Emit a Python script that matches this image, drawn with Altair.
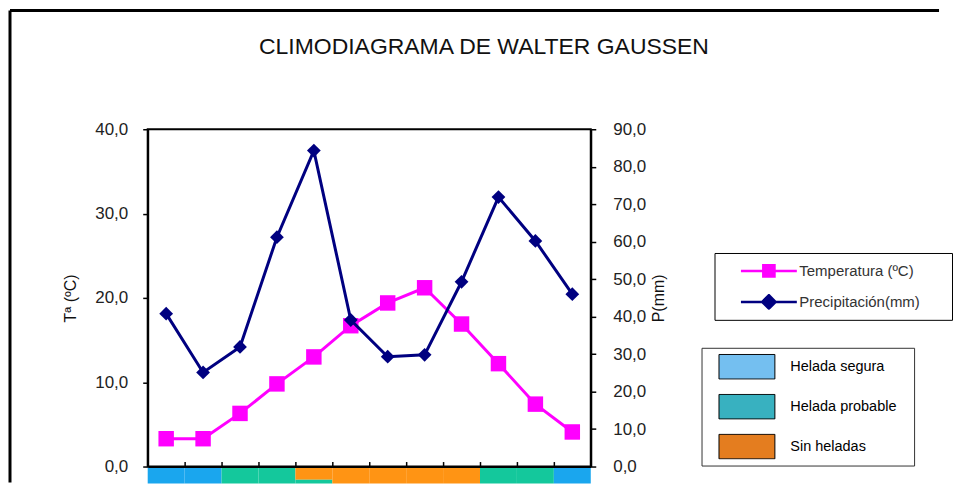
import altair as alt
import pandas as pd

# ---------------- data ----------------
meses = ["Ene", "Feb", "Mar", "Abr", "May", "Jun", "Jul", "Ago", "Sep", "Oct", "Nov", "Dic"]
temperatura = [3.3, 3.3, 6.3, 9.8, 13.0, 16.7, 19.4, 21.2, 16.9, 12.2, 7.4, 4.1]
precipitacion = [40.8, 25.1, 31.9, 61.2, 84.3, 39.1, 29.3, 29.8, 49.3, 71.9, 60.2, 46.0]

series = ["Temperatura (ºC)", "Precipitación(mm)"]
heladas = ["Helada segura", "Helada probable", "Sin heladas"]

# frost strip under the x axis (segments; May is split)
franja_mes = ["Ene", "Feb", "Mar", "Abr", "May", "May", "Jun", "Jul", "Ago", "Sep", "Oct", "Nov", "Dic"]
franja_cat = ["Helada segura", "Helada segura", "Helada probable", "Helada probable",
              "Sin heladas", "Helada probable", "Sin heladas", "Sin heladas", "Sin heladas",
              "Sin heladas", "Helada probable", "Helada probable", "Helada segura"]
franja_ini = [0, 0, 0, 0, 0, 0.76, 0, 0, 0, 0, 0, 0, 0]
franja_fin = [1, 1, 1, 1, 0.76, 1, 1, 1, 1, 1, 1, 1, 1]

ticks_t = [0, 10, 20, 30, 40]
ticks_p = [0, 10, 20, 30, 40, 50, 60, 70, 80, 90]

# ---------------- style ----------------
FONT = "Liberation Sans, Arial, Helvetica, sans-serif"
MAG = "#FF00FF"
NAVY = "#000080"
STRIP_COLORS = ["#1AA6EE", "#14C89C", "#FF9414"]
LEG_COLORS = ["#74BFF0", "#38B1C0", "#E47D1F"]
W, H = 444, 338
BLANK = "\u2800"  # blank glyph (not trimmed) used to pad legend width

PATH_SQ = "M-1,0H1M-0.2,-0.2H0.2V0.2H-0.2Z"
PATH_DI = "M-1,0H1M0,-0.24L0.24,0L0,0.24L-0.24,0Z"
PATH_RECT = "M-1,-0.44H1V0.44H-1Z"

fmt = "replace(format(datum.value, '.1f'), '.', ',')"

df = pd.DataFrame({"mes": meses, "temp": temperatura, "prec": precipitacion})
df_franja = pd.DataFrame({"mes": franja_mes, "cat": franja_cat, "ini": franja_ini, "fin": franja_fin})
df_series = pd.DataFrame({"serie": series})
df_heladas = pd.DataFrame({"cat": heladas})
df_one = pd.DataFrame({"k": [0]})

xenc = alt.X(
    "mes:N", sort=meses,
    scale=alt.Scale(type="band", paddingInner=0, paddingOuter=0),
    axis=alt.Axis(orient="top", offset=-H, labels=False, title=None, bandPosition=0,
                  tickSize=5, tickColor="black", tickWidth=1.5, domainColor="black",
                  domainWidth=2, grid=False, zindex=1),
)

temp = alt.Chart(df).mark_line(
    color=MAG, strokeWidth=3,
    point=alt.OverlayMarkDef(shape="square", size=240, filled=True, color=MAG, opacity=1),
).encode(
    x=xenc,
    y=alt.Y("temp:Q", scale=alt.Scale(domain=[0, 40], nice=False),
            axis=alt.Axis(orient="left", values=ticks_t, labelExpr=fmt, title="Tª (ºC)",
                          tickSize=5, labelPadding=15, titlePadding=16, grid=False)),
)

prec = alt.Chart(df).mark_line(
    color=NAVY, strokeWidth=3,
    point=alt.OverlayMarkDef(shape="diamond", size=190, filled=True, color=NAVY, opacity=1),
).encode(
    x=xenc,
    y=alt.Y("prec:Q", scale=alt.Scale(domain=[0, 90], nice=False),
            axis=alt.Axis(orient="right", values=ticks_p, labelExpr=fmt, title="P(mm)",
                          titleAngle=270, tickSize=5, labelPadding=17, titlePadding=21, grid=False)),
)

franja = alt.Chart(df_franja).mark_rect().encode(
    x=xenc,
    y=alt.Y("ini:Q", scale=alt.Scale(domain=[0, 1], range=[H + 1, H + 17]), axis=None),
    y2="fin:Q",
    fill=alt.Fill("cat:N", scale=alt.Scale(domain=heladas, range=STRIP_COLORS), legend=None),
)

L1 = alt.Legend(
    title=None, orient="none", legendX=568, legendY=124,
    symbolSize=3136, symbolStrokeWidth=2.5, symbolOffset=15, clipHeight=16,
    labelFont=FONT, labelFontSize=15, labelColor="#333", labelOffset=1,
    padding=10, rowPadding=15, strokeColor="black", fillColor="white",
    labelExpr="datum.label + '" + BLANK * 2 + "'",
)

leg_series = alt.Chart(df_series).transform_filter("false").mark_point(filled=True, opacity=1).encode(
    color=alt.Color("serie:N", scale=alt.Scale(domain=series, range=[MAG, NAVY]), legend=L1),
    stroke=alt.Stroke("serie:N", scale=alt.Scale(domain=series, range=[MAG, NAVY]), legend=L1),
    shape=alt.Shape("serie:N", scale=alt.Scale(domain=series, range=[PATH_SQ, PATH_DI]), legend=L1),
)

L2 = alt.Legend(
    title=None, orient="none", legendX=555, legendY=219,
    symbolType=PATH_RECT, symbolSize=3136, symbolStrokeColor="black", symbolStrokeWidth=1,
    symbolOffset=11, clipHeight=26, labelFont=FONT, labelFontSize=14.5, labelColor="black",
    labelOffset=15, padding=6, rowPadding=14, strokeColor="#333", fillColor="white",
    labelExpr="datum.label + '" + BLANK + "'",
)

leg_heladas = alt.Chart(df_heladas).transform_filter("false").mark_point(filled=True, opacity=1).encode(
    fill=alt.Fill("cat:N", scale=alt.Scale(domain=heladas, range=LEG_COLORS), legend=L2),
)

marco_sup = alt.Chart(df_one).mark_rule(color="black", strokeWidth=3).encode(
    x=alt.value(-138), x2=alt.value(793), y=alt.value(-119))
marco_izq = alt.Chart(df_one).mark_rule(color="black", strokeWidth=3).encode(
    x=alt.value(-138), y=alt.value(-119), y2=alt.value(354))

chart = alt.layer(
    marco_sup, marco_izq, franja, temp, prec, leg_series, leg_heladas
).resolve_scale(
    y="independent", fill="independent"
).properties(
    width=W, height=H, padding=0, background="white",
    title=alt.TitleParams("CLIMODIAGRAMA DE WALTER GAUSSEN", fontSize=23, font=FONT,
                          fontWeight="normal", color="#111", anchor="middle", dx=115, offset=-50),
).configure_view(
    stroke="black", strokeWidth=2
).configure_axis(
    labelFont=FONT, titleFont=FONT, labelFontSize=17, labelColor="#222",
    titleFontSize=16, titleFontWeight="normal", titleColor="#111",
    domainColor="black", domainWidth=2, tickColor="black", tickWidth=1.5,
)

chart.save("out.html", embed_options={"renderer": "svg", "actions": False})
